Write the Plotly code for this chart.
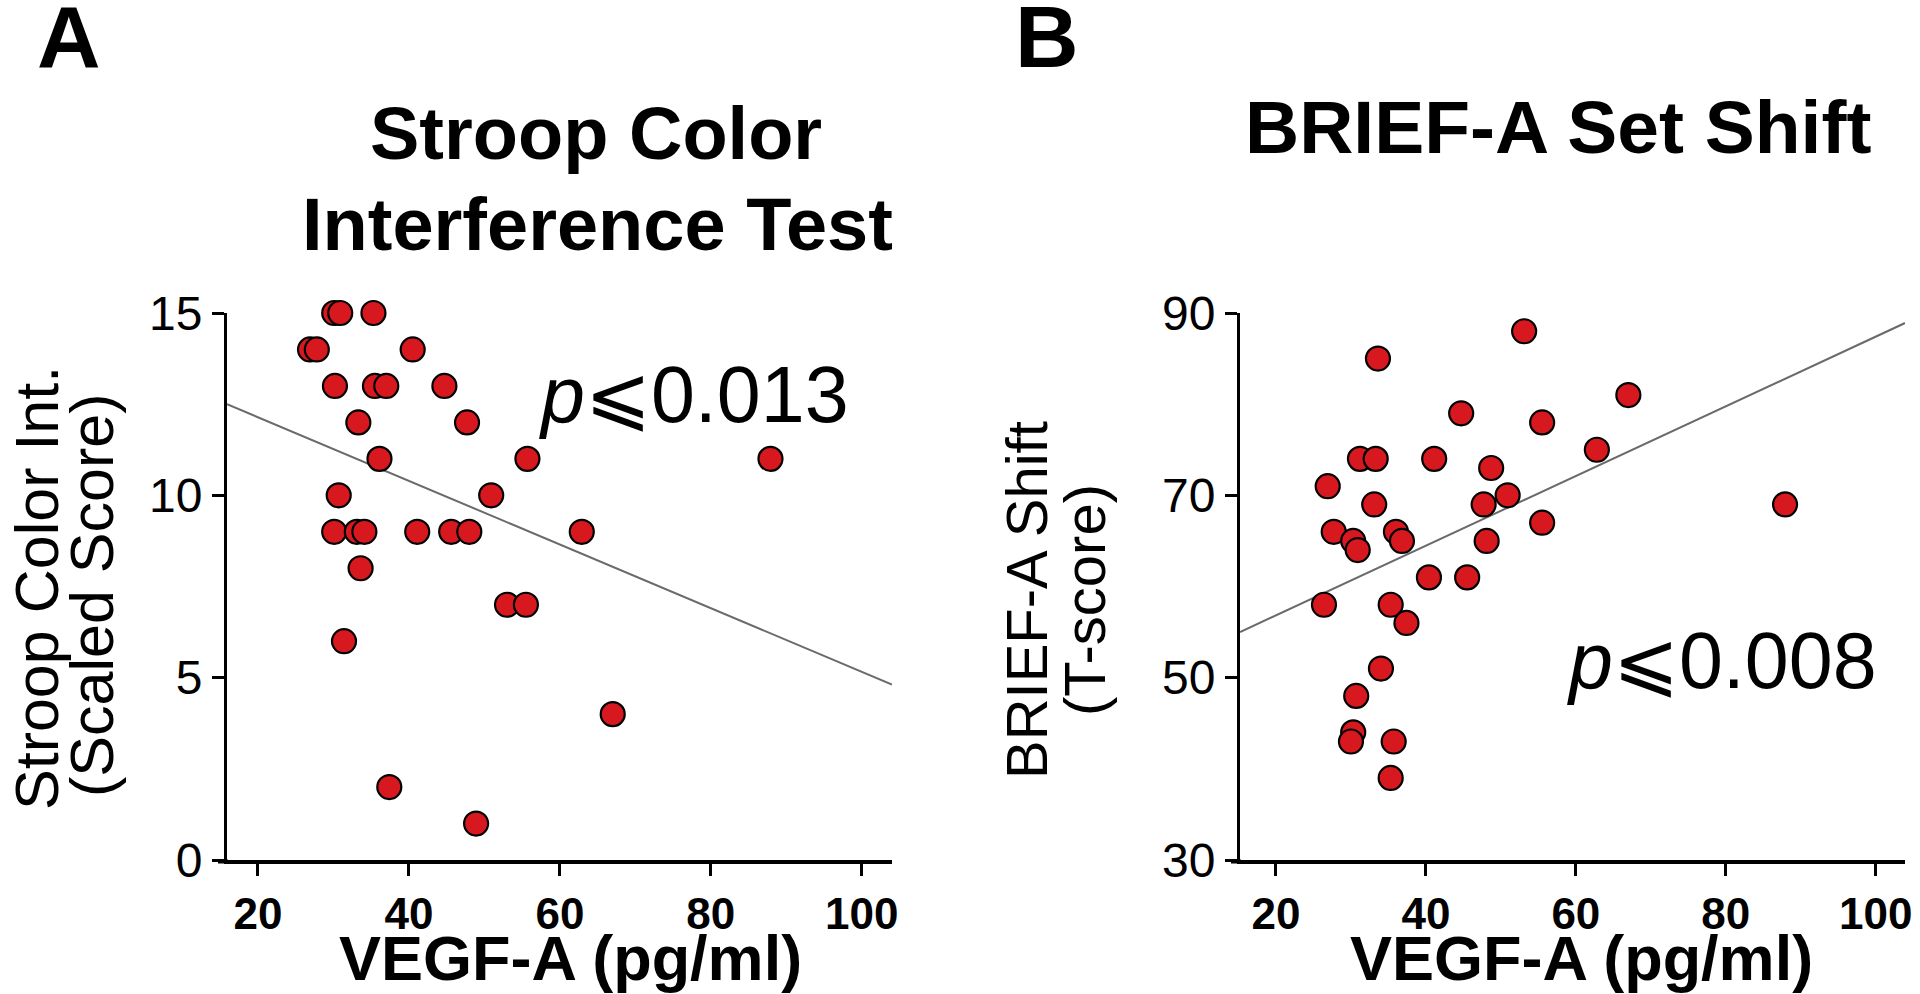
import plotly.graph_objects as go

# ---- Data ----
vegf_a = [30.1, 30.9, 35.3, 26.9, 27.8, 40.5, 30.2, 35.5, 37.0, 44.7, 33.3, 47.7,
          36.1, 55.7, 87.9, 30.7, 50.9, 30.1, 33.1, 34.1, 41.1, 45.6, 48.0, 62.9,
          33.6, 53.0, 55.5, 31.4, 67.0, 37.4, 48.9]
stroop = [15, 15, 15, 14, 14, 14, 13, 13, 13, 13, 12, 12,
          11, 11, 11, 10, 10, 9, 9, 9, 9, 9, 9, 9,
          8, 7, 7, 6, 4, 2, 1]

vegf_b = [53.1, 33.6, 67.0, 44.7, 55.5, 62.8, 31.2, 33.3, 41.1, 48.7, 26.9, 50.9,
          33.1, 47.7, 87.9, 55.5, 27.7, 36.0, 30.3, 36.8, 48.1, 30.9, 40.4, 45.5,
          26.4, 35.3, 37.4, 34.0, 30.7, 30.3, 30.0, 35.7, 35.3]
brief = [88, 85, 81, 79, 78, 75, 74, 74, 74, 73, 71, 70,
         69, 69, 69, 67, 66, 66, 65, 65, 65, 64, 61, 61,
         58, 58, 56, 51, 48, 44, 43, 43, 39]

fit_a_x = [15.9, 104.0]
fit_a_y = [12.50, 4.81]
fit_b_x = [15.2, 103.9]
fit_b_y = [55.0, 88.9]

x_ticks = [20, 40, 60, 80, 100]
y_ticks_a = [0, 5, 10, 15]
y_ticks_b = [30, 50, 70, 90]

titles = ["Stroop Color", "Interference Test", "BRIEF-A Set Shift"]
panel_letters = ["A", "B"]
ytitle_a = ["Stroop Color Int.", "(Scaled Score)"]
ytitle_b = ["BRIEF-A Shift", "(T-score)"]
xtitle = "VEGF-A (pg/ml)"
p_texts = ["<i>p</i>⩽0.013", "<i>p</i>⩽0.008"]

W, H = 1920, 994
FONT = "Liberation Sans, Arial, sans-serif"
DOT = "#D7191F"

fig = go.Figure()

fig.add_trace(go.Scatter(x=fit_a_x, y=fit_a_y, mode="lines",
                         line=dict(color="#6a6a6a", width=2),
                         xaxis="x", yaxis="y", showlegend=False, hoverinfo="skip"))
fig.add_trace(go.Scatter(x=vegf_a, y=stroop, mode="markers",
                         marker=dict(size=24, color=DOT, line=dict(color="black", width=2.2)),
                         cliponaxis=False, xaxis="x", yaxis="y", showlegend=False))
fig.add_trace(go.Scatter(x=fit_b_x, y=fit_b_y, mode="lines",
                         line=dict(color="#6a6a6a", width=2),
                         xaxis="x2", yaxis="y2", showlegend=False, hoverinfo="skip"))
fig.add_trace(go.Scatter(x=vegf_b, y=brief, mode="markers",
                         marker=dict(size=24, color=DOT, line=dict(color="black", width=2.2)),
                         cliponaxis=False, xaxis="x2", yaxis="y2", showlegend=False))


def px(x):
    return x / W


def py(y):
    return 1 - y / H


xax = dict(showline=True, linecolor="black", linewidth=4, ticks="outside",
           ticklen=12, tickwidth=3, tickcolor="black", showgrid=False, zeroline=False,
           automargin=False,
           tickvals=x_ticks, tickfont=dict(family=FONT, size=44, color="black", weight="bold"))
yax = dict(showline=True, linecolor="black", linewidth=3, ticks="outside",
           ticklen=12, tickwidth=3, tickcolor="black", showgrid=False, zeroline=False,
           automargin=False,
           tickfont=dict(family=FONT, size=48, color="black"))

fig.update_layout(
    template="none",
    width=W, height=H, autosize=False,
    margin=dict(l=0, r=0, t=0, b=0, pad=0),
    paper_bgcolor="white", plot_bgcolor="white",
    xaxis=dict(xax, domain=[px(227), px(892)], range=[15.9, 104.0], anchor="y"),
    yaxis=dict(yax, domain=[py(860), py(313)], range=[0, 15], tickvals=y_ticks_a, anchor="x"),
    xaxis2=dict(xax, domain=[px(1240), px(1905)], range=[15.2, 103.9], anchor="y2"),
    yaxis2=dict(yax, domain=[py(860), py(313)], range=[30, 90], tickvals=y_ticks_b, anchor="x2"),
)

# small overhang of the x-axis line to the left of the y-axis
for x0, x1 in [(218, 228), (1231, 1241)]:
    fig.add_shape(type="line", xref="paper", yref="paper",
                  x0=px(x0), x1=px(x1), y0=py(861.5), y1=py(861.5),
                  line=dict(color="black", width=4))

ann = []


def add(text, x, y, size, bold=False, angle=0, yanchor="middle"):
    ann.append(dict(text=text, x=px(x), y=py(y), xref="paper", yref="paper",
                    xanchor="center", yanchor=yanchor, showarrow=False, textangle=angle,
                    font=dict(family=FONT, size=size, color="black",
                              weight="bold" if bold else "normal")))


add(panel_letters[0], 69, 37, 88, bold=True)
add(panel_letters[1], 1047, 37, 88, bold=True)
add(titles[0], 596, 133, 74, bold=True)
add(titles[1], 597, 225, 74, bold=True)
add(titles[2], 1558, 127, 75, bold=True)
add(ytitle_a[0], 37, 588, 61, angle=-90)
add(ytitle_a[1], 92, 596, 61, angle=-90)
add(ytitle_b[0], 1026, 600, 58, angle=-90)
add(ytitle_b[1], 1084, 600, 58, angle=-90)
add(xtitle, 570, 958, 63, bold=True)
add(xtitle, 1581, 958, 63, bold=True)
add(p_texts[0], 694, 394, 79)
add(p_texts[1], 1722, 660, 79)

fig.update_layout(annotations=ann)

fig.write_html("out.html", config={"displayModeBar": False})
with open("out.html", "r", encoding="utf-8") as f:
    html = f.read()
html = html.replace("<body>", '<body style="margin:0;padding:0;overflow:hidden">', 1)
with open("out.html", "w", encoding="utf-8") as f:
    f.write(html)
